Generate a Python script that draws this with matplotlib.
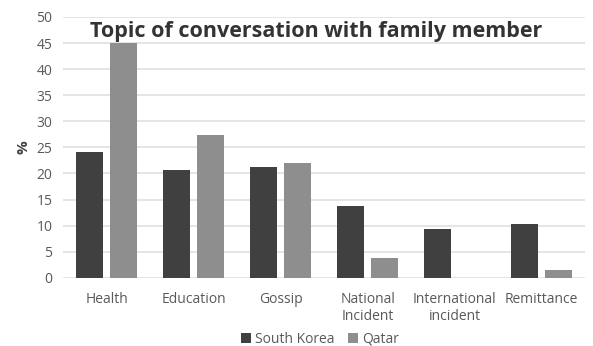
import matplotlib.pyplot as plt
import numpy as np

topics = ['Health', 'Education', 'Gossip', 'National\nIncident',
          'International\nincident', 'Remittance']
south_korea = [24.2, 20.7, 21.3, 13.7, 9.4, 10.3]
qatar = [45.0, 27.4, 22.1, 3.8, 0.0, 1.5]

plt.rcParams['font.family'] = ['Open Sans', 'DejaVu Sans']

fig = plt.figure(figsize=(5.93, 3.46), dpi=100)
ax = fig.add_axes([0.107, 0.197, 0.88, 0.754])

x = np.arange(len(topics))
w = 0.31
ax.bar(x - w / 2 - 0.04, south_korea, w, color='#404040', label='South Korea', zorder=3)
ax.bar(x + w / 2 + 0.04, qatar, w, color='#8e8e8e', label='Qatar', zorder=3)

ax.set_ylim(0, 50)
ax.set_xlim(-0.5, len(topics) - 0.5)
ax.set_yticks(range(0, 51, 5))
ax.set_xticks(x)
ax.set_xticklabels(topics)
ax.yaxis.grid(True, color='#e0e0e0', linewidth=1.2, zorder=0)
for s in ax.spines.values():
    s.set_visible(False)
ax.tick_params(length=0, labelsize=10, labelcolor='#595959', pad=8)
ax.tick_params(axis='x', pad=10)
ax.set_ylabel('%', fontsize=11, color='#404040', fontweight='bold', labelpad=4)

ax.text(0.485, 0.945, 'Topic of conversation with family member', transform=ax.transAxes,
        ha='center', va='center', fontsize=15.5, fontweight='bold', color='#333333')

fig.legend(loc='center', bbox_to_anchor=(0.54, 0.02), ncol=2, frameon=False,
           fontsize=10, handlelength=0.7, handleheight=0.7, handletextpad=0.3,
           columnspacing=1.0, labelcolor='#595959', borderpad=0)

plt.savefig('out.png')
